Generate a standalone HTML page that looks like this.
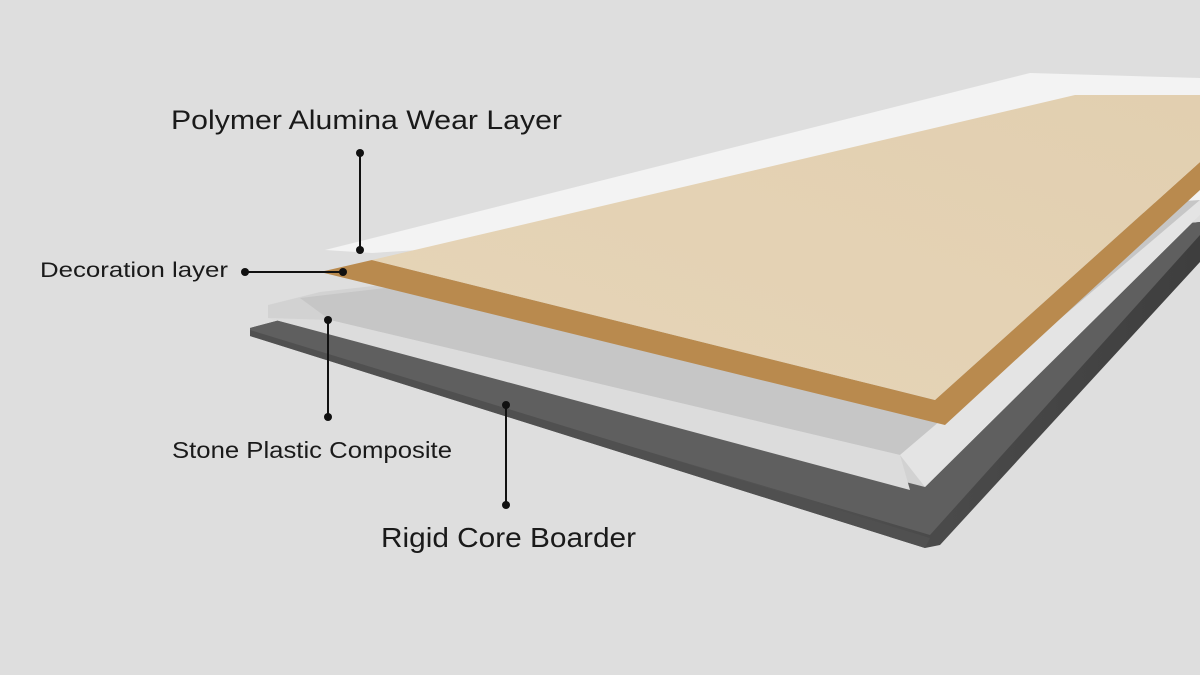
<!DOCTYPE html>
<html><head><meta charset="utf-8"><style>
html,body{margin:0;padding:0;background:#dedede;}
svg{display:block}
text{font-family:"Liberation Sans",sans-serif;fill:#1a1a1a}
</style></head><body>
<svg width="1200" height="675" viewBox="0 0 1200 675" xmlns="http://www.w3.org/2000/svg">
<defs>
<linearGradient id="wood" x1="0" y1="1" x2="1" y2="0">
<stop offset="0" stop-color="#e6d5b8"/><stop offset="1" stop-color="#e2cfb0"/></linearGradient>
<linearGradient id="dark" x1="0" y1="0" x2="1" y2="0">
<stop offset="0" stop-color="#6a6a6a"/><stop offset="1" stop-color="#3e3e3e"/></linearGradient>
</defs>
<rect width="1200" height="675" fill="#dedede"/>
<polygon points="250,328 280,320 1200,222 1200,262 940,545 925,548 250,336" fill="url(#dark)"/>
<polygon points="250,328 280,320 1200,222 1200,235 930,535 250,334" fill="#5f5f5f"/>
<polygon points="925,548 250,336 250,330 930,538" fill="#505050"/>
<polygon points="268,305 320,292 1200,192 1200,215 925,487 268,318" fill="#d2d2d2"/>
<polygon points="300,298 1200,192 1200,200 900,455 330,320" fill="#c6c6c6"/>
<polygon points="330,320 900,455 910,490 268,318" fill="#dcdcdc"/>
<polygon points="900,455 1200,200 1200,215 925,487" fill="#e4e4e4"/>
<polygon points="325,250 1030,73 1200,78 1200,200 372,253" fill="#f3f3f3"/>
<polygon points="320,272 372,260 935,400 1200,162 1200,190 945,425" fill="#b98a4e"/>
<polygon points="372,260 1075,95 1200,95 1200,162 935,400" fill="url(#wood)"/>
<g stroke="#111" stroke-width="2">
<line x1="360" y1="153" x2="360" y2="250"/>
<line x1="245" y1="272" x2="343" y2="272"/>
<line x1="328" y1="320" x2="328" y2="417"/>
<line x1="506" y1="405" x2="506" y2="505"/>
</g>
<g fill="#111">
<circle cx="360" cy="153" r="4"/><circle cx="360" cy="250" r="4"/>
<circle cx="245" cy="272" r="4"/><circle cx="343" cy="272" r="4"/>
<circle cx="328" cy="320" r="4"/><circle cx="328" cy="417" r="4"/>
<circle cx="506" cy="405" r="4"/><circle cx="506" cy="505" r="4"/>
</g>
<text x="171" y="129" font-size="27" textLength="391" lengthAdjust="spacingAndGlyphs">Polymer Alumina Wear Layer</text>
<text x="40" y="277" font-size="21" textLength="188" lengthAdjust="spacingAndGlyphs">Decoration layer</text>
<text x="172" y="458" font-size="23" textLength="280" lengthAdjust="spacingAndGlyphs">Stone Plastic Composite</text>
<text x="381" y="547" font-size="28" textLength="255" lengthAdjust="spacingAndGlyphs">Rigid Core Boarder</text>
</svg>
</body></html>
